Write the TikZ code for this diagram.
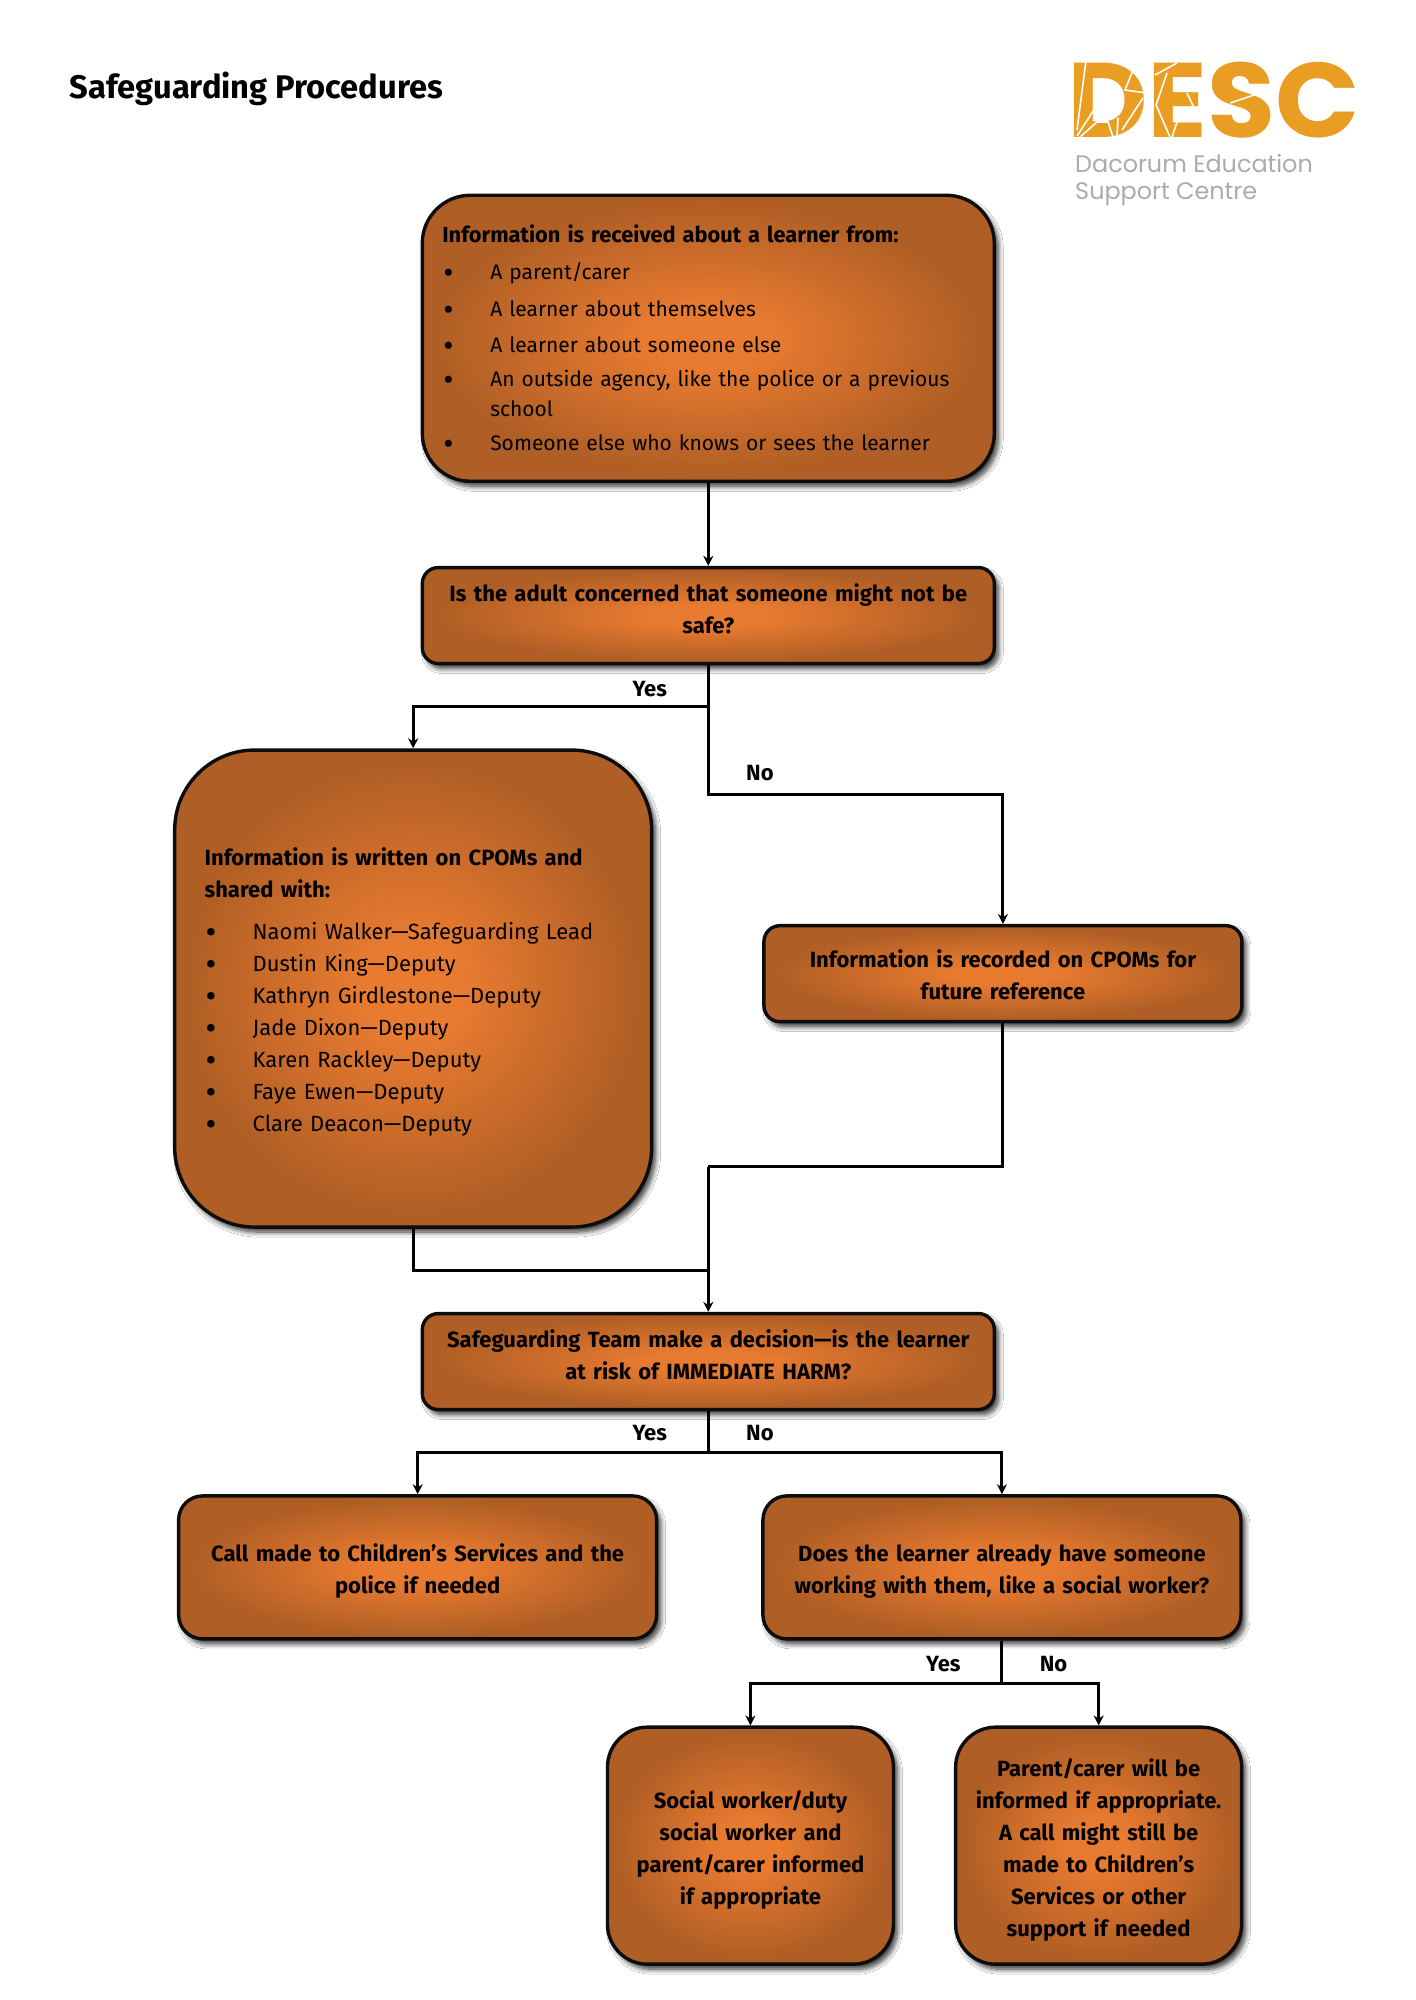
\documentclass[tikz,border=0pt]{standalone}
\usepackage{fontspec}
\setmainfont{Fira Sans}
\newfontfamily\logofont{Poppins}
\usetikzlibrary{shadows.blur,arrows.meta}
\definecolor{boxedge}{HTML}{AF5E25}
\definecolor{boxmid}{HTML}{E97B30}
\definecolor{logoorange}{HTML}{E99D23}
\definecolor{logogrey}{HTML}{A9ABAE}
\pgfdeclareradialshading{boxglow}{\pgfpoint{0bp}{0bp}}{color(0bp)=(boxmid); color(5bp)=(boxmid); color(24bp)=(boxedge); color(50bp)=(boxedge)}
\newcommand{\bul}{\makebox[48pt][l]{\hspace{1pt}\raisebox{-4pt}[0pt][0pt]{\scalebox{1.5}{•}}}}
\newcommand{\lift}{\rule[-14pt]{0pt}{0pt}}
\newcommand{\drop}{\rule{0pt}{26pt}}
\tikzset{
  flowbox/.style={draw=black!95,line width=3.4pt,shading=boxglow,
    blur shadow={shadow xshift=4pt,shadow yshift=-5pt,shadow blur steps=8,shadow blur radius=5pt,shadow opacity=80},
    align=center,inner sep=4pt,font=\fontsize{22}{32}\selectfont\bfseries},
  listbox/.style={flowbox,align=left,font=\fontsize{21}{30}\selectfont\mdseries},
  conn/.style={draw=black,line width=3pt},
  connarrow/.style={conn,-{Stealth[length=10pt,width=10pt]}},
  branchlabel/.style={font=\fontsize{22}{24}\selectfont\bfseries,inner sep=0pt},
  crack/.style={draw=white,line width=1.6pt},
}
\begin{document}
\begin{tikzpicture}[x=0.992pt,y=-0.992pt]
\useasboundingbox (0,0) rectangle (1426.4,2016.1);
\fill[white] (0,0) rectangle (1426.4,2016.1);
\node[anchor=west,inner sep=0pt,font=\fontsize{32.7}{36}\selectfont\bfseries] (title) at (70,90) {Safeguarding Procedures};
% logo
\begin{scope}[x=1pt,y=-1pt]
\node[anchor=north west,inner sep=0pt,text height=75pt,text depth=0pt,logoorange,font=\logofont\bfseries\fontsize{106}{106}\selectfont] (logo) at (1067,62) {\scalebox{1.045}[1]{DESC}};
\draw[crack] (1086,60) -- (1077,130);
\draw[crack] (1077,136) -- (1097,105) -- (1086,122);
\draw[crack] (1080,137) -- (1097,122) -- (1108,122) -- (1113,137);
\draw[crack] (1133,70) -- (1125,90) -- (1146,93);
\draw[crack] (1143,98) -- (1122,130);
\draw[crack] (1118,118) -- (1117,135);
\draw[crack] (1155,75) -- (1177,63);
\draw[crack] (1167,73) -- (1156,105) -- (1170,137);
\draw[crack] (1187,93) -- (1195,110);
\draw[crack] (1177,122) -- (1172,137);
\draw[crack] (1230,103) -- (1260,93);
\node[anchor=north west,inner sep=0pt,logogrey,font=\logofont\fontsize{23.9}{27.5}\selectfont,align=left] (logotext) at (1075,154) {Dacorum Education\\Support Centre};
\end{scope}
% boxes
\node[listbox,minimum width=572pt,minimum height=286pt,text width=532pt,rounded corners=48pt] (b1) at (714,341) {\textbf{\fontsize{21.8}{30}\selectfont Information is received about a learner from:}\\[7pt]
\bul A parent/carer\\[7pt]
\bul A learner about themselves\\[6pt]
\bul A learner about someone else\\[4pt]
\bul An outside agency, like the police or a previous\\
\hspace*{48pt}school\\[4pt]
\bul Someone else who knows or sees the learner};
\node[flowbox,minimum width=572pt,minimum height=96pt,text width=540pt,rounded corners=16pt] (b2) at (714,620.5) {Is the adult concerned that someone might not be\\safe?\lift};
\node[listbox,minimum width=477pt,minimum height=477pt,text width=417pt,rounded corners=80pt,font=\fontsize{22}{32}\selectfont\mdseries] (b3) at (416.5,996.5) {\rule{0pt}{24pt}\textbf{Information is written on CPOMs and}\\
\textbf{shared with:}\\[10pt]
\bul Naomi Walker—Safeguarding Lead\\
\bul Dustin King—Deputy\\
\bul Kathryn Girdlestone—Deputy\\
\bul Jade Dixon—Deputy\\
\bul Karen Rackley—Deputy\\
\bul Faye Ewen—Deputy\\
\bul Clare Deacon—Deputy};
\node[flowbox,minimum width=478pt,minimum height=96pt,text width=450pt,rounded corners=16pt] (b4) at (1011,981.5) {\rule{0pt}{20pt}Information is recorded on CPOMs for\\future reference};
\node[flowbox,minimum width=572pt,minimum height=96pt,text width=540pt,rounded corners=16pt] (b5) at (714,1372.5) {Safeguarding Team make a decision—is the learner\\at risk of IMMEDIATE HARM?\lift};
\node[flowbox,minimum width=478pt,minimum height=143pt,text width=450pt,rounded corners=24pt] (b6) at (421,1580) {\drop Call made to Children’s Services and the\\police if needed};
\node[flowbox,minimum width=478pt,minimum height=143pt,text width=450pt,rounded corners=24pt] (b7) at (1010,1580) {\drop Does the learner already have someone\\working with them, like a social worker?};
\node[flowbox,minimum width=286pt,minimum height=237pt,text width=270pt,rounded corners=40pt] (b8) at (756.5,1860.5) {\drop Social worker/duty\\social worker and\\parent/carer informed\\if appropriate};
\node[flowbox,minimum width=286pt,minimum height=237pt,text width=270pt,rounded corners=40pt] (b9) at (1107.5,1860.5) {\drop Parent/carer will be\\informed if appropriate.\\A call might still be\\made to Children’s\\Services or other\\support if needed};
% junctions
\coordinate (j1) at (714,712);
\coordinate (j2) at (714,801);
\coordinate (j3) at (714,1176);
\coordinate (j4) at (714,1281);
\coordinate (j5) at (714,1464);
\coordinate (j6) at (1010,1697);
% connectors
\draw[connarrow] (b1.south) -- (b2.north);
\draw[connarrow] (b2.south) -- (j1) -| (b3.north);
\draw[connarrow] (j1) -- (j2) -| (b4.north);
\draw[conn] (b4.south) |- (j3);
\draw[conn] (b3.south) |- (j4);
\draw[connarrow] (j3) -- (b5.north);
\draw[conn] (b5.south) -- (j5);
\draw[connarrow] (j5) -| (b6.north);
\draw[connarrow] (j5) -| (b7.north);
\draw[conn] (b7.south) -- (j6);
\draw[connarrow] (j6) -| (b8.north);
\draw[connarrow] (j6) -| (b9.north);
% labels
\node[branchlabel] (l1) at (655,695) {Yes};
\node[branchlabel] (l2) at (766,779) {No};
\node[branchlabel] (l3) at (655,1445) {Yes};
\node[branchlabel] (l4) at (766,1445) {No};
\node[branchlabel] (l5) at (951,1677) {Yes};
\node[branchlabel] (l6) at (1062,1677) {No};
\end{tikzpicture}
\end{document}
